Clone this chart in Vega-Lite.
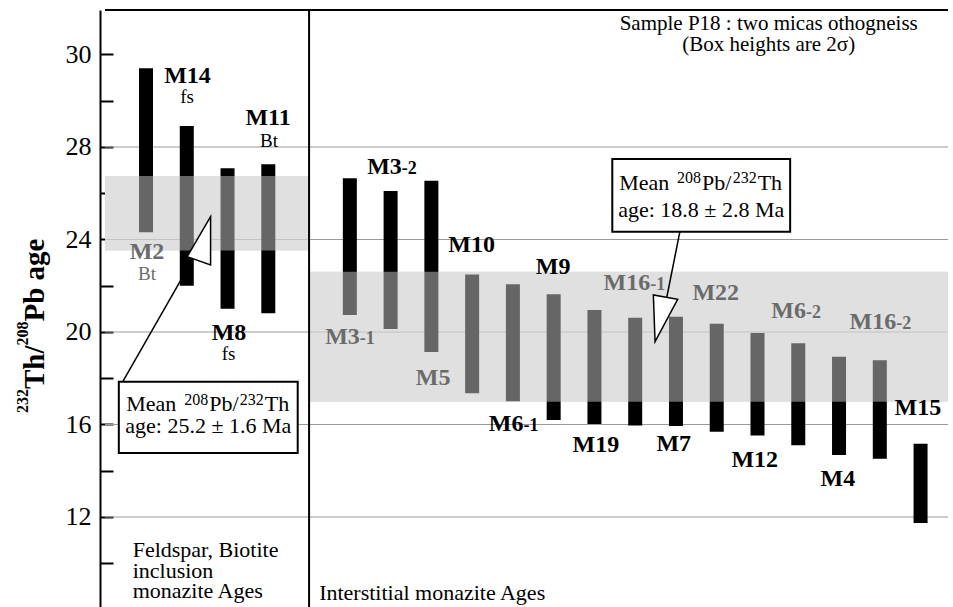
{
  "$schema": "https://vega.github.io/schema/vega-lite/v6.json",
  "width": 853,
  "height": 597,
  "autosize": {"type": "none"},
  "padding": {"left": 100, "top": 10, "right": 0, "bottom": 0},
  "background": "white",
  "config": {"view": {"stroke": null}, "font": "Liberation Serif", "text": {"font": "Liberation Serif"}},
  "datasets": {
    "bands": [
      {"x": -1.006, "x2": 4, "y": 23.52, "y2": 26.75},
      {"x": 4, "x2": 19.673, "y": 16.98, "y2": 22.61}
    ],
    "grid": [
      {"x": -1.006, "x2": 19.673, "y": 12},
      {"x": -1.006, "x2": 19.673, "y": 16},
      {"x": -1.006, "x2": 19.673, "y": 20},
      {"x": -1.006, "x2": 19.673, "y": 24},
      {"x": -1.006, "x2": 19.673, "y": 28}
    ],
    "bars": [
      {"x": 0, "y": 24.31, "y2": 31.40},
      {"x": 1, "y": 22.0, "y2": 28.91},
      {"x": 2, "y": 21.01, "y2": 27.08},
      {"x": 3, "y": 20.81, "y2": 27.25},
      {"x": 5, "y": 20.74, "y2": 26.65},
      {"x": 6, "y": 20.13, "y2": 26.10},
      {"x": 7, "y": 19.14, "y2": 26.54},
      {"x": 8, "y": 17.35, "y2": 22.49},
      {"x": 9, "y": 17.0, "y2": 22.06},
      {"x": 10, "y": 16.19, "y2": 21.63},
      {"x": 11, "y": 16.02, "y2": 20.95},
      {"x": 12, "y": 15.96, "y2": 20.62},
      {"x": 13, "y": 15.94, "y2": 20.66},
      {"x": 14, "y": 15.69, "y2": 20.36},
      {"x": 15, "y": 15.52, "y2": 19.96},
      {"x": 16, "y": 15.10, "y2": 19.51},
      {"x": 17, "y": 14.68, "y2": 18.93},
      {"x": 18, "y": 14.52, "y2": 18.78},
      {"x": 19, "y": 11.74, "y2": 15.17}
    ],
    "frame": [
      {"x": 4, "x2": 4, "y": 8.108, "y2": 33.924},
      {"x": -1.006, "x2": 19.673, "y": 33.924, "y2": 33.924}
    ],
    "leaders": [
      {"x": -0.57, "y": 17.851, "x2": 1.152, "y2": 23.157},
      {"x": 13.096, "y": 24.337, "x2": 12.776, "y2": 21.514}
    ],
    "boxes": [
      {"x": -0.667, "x2": 3.721, "y": 14.768, "y2": 17.851},
      {"x": 11.438, "x2": 15.801, "y": 24.337, "y2": 27.481}
    ],
    "boxMain": [
      {"x": -0.485, "y": 16.597, "text": "Mean"},
      {"x": 1.549, "y": 16.597, "text": "Pb/"},
      {"x": 2.912, "y": 16.597, "text": "Th"},
      {"x": 11.609, "y": 26.141, "text": "Mean"},
      {"x": 13.641, "y": 26.141, "text": "Pb/"},
      {"x": 15.004, "y": 26.141, "text": "Th"}
    ],
    "boxSup": [
      {"x": 0.936, "y": 16.843, "text": "208"},
      {"x": 2.298, "y": 16.843, "text": "232"},
      {"x": 13.028, "y": 26.43, "text": "208"},
      {"x": 14.39, "y": 26.43, "text": "232"}
    ],
    "boxLine2": [
      {"x": 1.527, "y": 15.618, "text": "age: 25.2 ± 1.6 Ma"},
      {"x": 13.619, "y": 24.986, "text": "age: 18.8 ± 2.8 Ma"}
    ],
    "titleMain": [
      {"x": -2.497, "y": 17.535, "text": "Th/"},
      {"x": -2.497, "y": 20.454, "text": "Pb age"}
    ],
    "titleSup": [
      {"x": -2.897, "y": 16.497, "text": "232"},
      {"x": -2.897, "y": 19.416, "text": "208"}
    ],
    "tri1": [{"x": 1.297, "y": 23.935}],
    "tri2": [{"x": 12.752, "y": 20.605}],
    "labels": [
      {"x": 1.018, "y": 31.070, "text": "M14", "tone": "out"},
      {"x": 2.994, "y": 29.254, "text": "M11", "tone": "out"},
      {"x": 0.024, "y": 23.438, "text": "M2", "tone": "in"},
      {"x": 2.036, "y": 19.978, "text": "M8", "tone": "out"},
      {"x": 7.988, "y": 23.762, "text": "M10", "tone": "out"},
      {"x": 9.988, "y": 22.832, "text": "M9", "tone": "out"},
      {"x": 7.042, "y": 17.989, "text": "M5", "tone": "in"},
      {"x": 13.976, "y": 21.665, "text": "M22", "tone": "in"},
      {"x": 18.933, "y": 16.692, "text": "M15", "tone": "out"},
      {"x": 12.945, "y": 15.157, "text": "M7", "tone": "out"},
      {"x": 14.933, "y": 14.465, "text": "M12", "tone": "out"},
      {"x": 16.97, "y": 13.643, "text": "M4", "tone": "out"},
      {"x": 11.035, "y": 15.114, "text": "M19", "tone": "out"}
    ],
    "splitMain": [
      {"x": 6.275, "y": 26.832, "text": "M3", "tone": "out"},
      {"x": 5.245, "y": 19.481, "text": "M3", "tone": "in"},
      {"x": 9.257, "y": 15.719, "text": "M6", "tone": "out"},
      {"x": 16.19, "y": 20.584, "text": "M6", "tone": "in"},
      {"x": 12.367, "y": 21.816, "text": "M16", "tone": "in"},
      {"x": 18.404, "y": 20.13, "text": "M16", "tone": "in"}
    ],
    "splitSuf": [
      {"x": 6.275, "y": 26.832, "text": "-2", "tone": "out"},
      {"x": 5.245, "y": 19.481, "text": "-1", "tone": "in"},
      {"x": 9.257, "y": 15.719, "text": "-1", "tone": "out"},
      {"x": 16.19, "y": 20.584, "text": "-2", "tone": "in"},
      {"x": 12.367, "y": 21.816, "text": "-1", "tone": "in"},
      {"x": 18.404, "y": 20.13, "text": "-2", "tone": "in"}
    ],
    "sublabels": [
      {"x": 1.006, "y": 30.162, "text": "fs", "tone": "out"},
      {"x": 3.018, "y": 28.259, "text": "Bt", "tone": "out"},
      {"x": 0.024, "y": 22.508, "text": "Bt", "tone": "in"},
      {"x": 2.024, "y": 19.049, "text": "fs", "tone": "out"}
    ],
    "notesLeft": [
      {"x": -0.327, "y": 10.573, "text": "Feldspar, Biotite"},
      {"x": -0.327, "y": 9.678, "text": "inclusion"},
      {"x": -0.327, "y": 8.813, "text": "monazite Ages"},
      {"x": 4.247, "y": 8.714, "text": "Interstitial monazite Ages"}
    ],
    "notesTop": [
      {"x": 15.275, "y": 33.297, "text": "Sample P18 : two micas othogneiss"},
      {"x": 15.275, "y": 32.411, "text": "(Box heights are 2σ)"}
    ]
  },
  "encoding": {
    "x": {"field": "x", "type": "quantitative", "scale": {"domain": [-1.006, 19.673], "nice": false, "zero": false}, "axis": null},
    "y": {
      "field": "y", "type": "quantitative",
      "scale": {"domain": [8.108, 33.924], "nice": false, "zero": false},
      "axis": {
        "title": null,
        "values": [10, 12, 14, 16, 18, 20, 22, 24, 26, 28, 30, 32],
        "labelExpr": "datum.value == 32 ? '30' : (datum.value % 4 == 0 ? datum.label : '')",
        "grid": false,
        "tickSize": -13,
        "tickWidth": 2,
        "tickColor": "black",
        "domainColor": "black",
        "domainWidth": 2,
        "labelFont": "Liberation Serif",
        "labelFontSize": 26,
        "labelColor": "black",
        "labelPadding": 22,
        "labelFlush": false,
        "labelOverlap": false
      }
    }
  },
  "layer": [
    {"data": {"name": "bands"}, "mark": {"type": "rect", "fill": "#cbcbcb"},
     "encoding": {"x2": {"field": "x2"}, "y2": {"field": "y2"}}},
    {"data": {"name": "grid"}, "mark": {"type": "rule", "color": "#9a9a9a", "strokeWidth": 1.2},
     "encoding": {"x2": {"field": "x2"}}},
    {"data": {"name": "bars"}, "mark": {"type": "bar", "width": 14, "color": "black"},
     "encoding": {"y2": {"field": "y2"}}},
    {"data": {"name": "bands"}, "mark": {"type": "rect", "fill": "white", "opacity": 0.4},
     "encoding": {"x2": {"field": "x2"}, "y2": {"field": "y2"}}},
    {"data": {"name": "frame"}, "mark": {"type": "rule", "color": "black", "strokeWidth": 2},
     "encoding": {"x2": {"field": "x2"}, "y2": {"field": "y2"}}},
    {"data": {"name": "leaders"}, "mark": {"type": "rule", "color": "black", "strokeWidth": 1.5},
     "encoding": {"x2": {"field": "x2"}, "y2": {"field": "y2"}}},
    {"data": {"name": "boxes"}, "mark": {"type": "rect", "fill": "white", "stroke": "black", "strokeWidth": 2},
     "encoding": {"x2": {"field": "x2"}, "y2": {"field": "y2"}}},
    {"data": {"name": "boxMain"}, "mark": {"type": "text", "fontSize": 22, "align": "left", "baseline": "alphabetic", "color": "black"},
     "encoding": {"text": {"field": "text"}}},
    {"data": {"name": "boxSup"}, "mark": {"type": "text", "fontSize": 16, "align": "left", "baseline": "alphabetic", "color": "black"},
     "encoding": {"text": {"field": "text"}}},
    {"data": {"name": "boxLine2"}, "mark": {"type": "text", "fontSize": 22, "align": "center", "baseline": "alphabetic", "color": "black"},
     "encoding": {"text": {"field": "text"}}},
    {"data": {"name": "titleMain"}, "mark": {"type": "text", "fontSize": 29, "fontWeight": "bold", "angle": 270, "align": "left", "baseline": "alphabetic", "color": "black"},
     "encoding": {"text": {"field": "text"}}},
    {"data": {"name": "titleSup"}, "mark": {"type": "text", "fontSize": 16, "fontWeight": "bold", "angle": 270, "align": "left", "baseline": "alphabetic", "color": "black"},
     "encoding": {"text": {"field": "text"}}},
    {"data": {"name": "tri1"}, "mark": {"type": "point", "shape": "M0.468,-0.972L-0.468,0.628L0.468,0.96Z", "size": 2500, "filled": true, "fill": "white", "stroke": "black", "strokeWidth": 1.5, "opacity": 1}},
    {"data": {"name": "tri2"}, "mark": {"type": "point", "shape": "M-0.432,0.948L-0.5,-0.92L0.472,-0.748Z", "size": 2500, "filled": true, "fill": "white", "stroke": "black", "strokeWidth": 1.5, "opacity": 1}},
    {"data": {"name": "labels"}, "mark": {"type": "text", "fontSize": 24, "fontWeight": "bold", "align": "center", "baseline": "middle"},
     "encoding": {"text": {"field": "text"}, "color": {"field": "tone", "type": "nominal", "scale": {"domain": ["in", "out"], "range": ["#6b6b6b", "black"]}, "legend": null}}},
    {"data": {"name": "splitMain"}, "mark": {"type": "text", "fontSize": 24, "fontWeight": "bold", "align": "right", "baseline": "alphabetic"},
     "encoding": {"text": {"field": "text"}, "color": {"field": "tone", "type": "nominal", "scale": {"domain": ["in", "out"], "range": ["#6b6b6b", "black"]}, "legend": null}}},
    {"data": {"name": "splitSuf"}, "mark": {"type": "text", "fontSize": 18, "fontWeight": "bold", "align": "left", "baseline": "alphabetic"},
     "encoding": {"text": {"field": "text"}, "color": {"field": "tone", "type": "nominal", "scale": {"domain": ["in", "out"], "range": ["#6b6b6b", "black"]}, "legend": null}}},
    {"data": {"name": "sublabels"}, "mark": {"type": "text", "fontSize": 19, "align": "center", "baseline": "middle"},
     "encoding": {"text": {"field": "text"}, "color": {"field": "tone", "type": "nominal", "scale": {"domain": ["in", "out"], "range": ["#6b6b6b", "black"]}, "legend": null}}},
    {"data": {"name": "notesLeft"}, "mark": {"type": "text", "fontSize": 22, "align": "left", "baseline": "middle", "color": "black"},
     "encoding": {"text": {"field": "text"}}},
    {"data": {"name": "notesTop"}, "mark": {"type": "text", "fontSize": 21, "align": "center", "baseline": "middle", "color": "black"},
     "encoding": {"text": {"field": "text"}}}
  ]
}
